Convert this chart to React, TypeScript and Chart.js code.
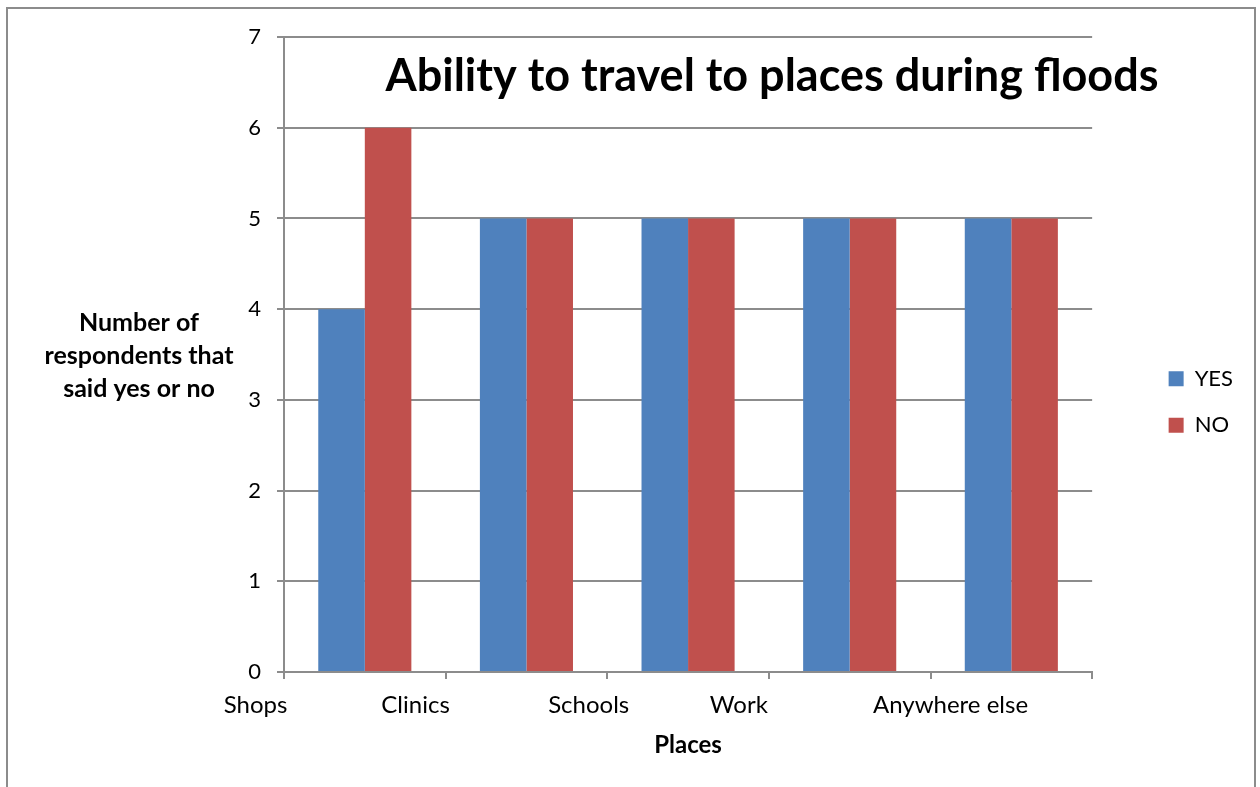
import React, { useEffect, useRef } from 'react';
import { Chart, registerables } from 'chart.js';

Chart.register(...registerables);

const categories = ['Shops', 'Clinics', 'Schools', 'Work', 'Anywhere else'];
const yesValues = [4, 5, 5, 5, 5];
const noValues = [6, 5, 5, 5, 5];
const seriesNames = ['YES', 'NO'];
const yMin = 0;
const yMax = 7;
const yStep = 1;
const chartTitle = 'Ability to travel to places during floods';
const yTitleLines = ['Number of', 'respondents that', 'said yes or no'];
const xTitle = 'Places';

const FONT = 'Lato, "Open Sans", sans-serif';
const GRID = '#8c8c8c';
const BLUE = '#4F81BD';
const RED = '#C0504D';
// shift of each category label from its category's left boundary, in category widths
const labelShift = [-0.176, -0.186, -0.115, -0.186, 0.124];

const overlayPlugin = {
  id: 'overlayText',
  afterDraw(chart: any) {
    const { ctx, chartArea, scales } = chart;
    const xs = scales.x;
    ctx.save();
    ctx.fillStyle = '#000';
    ctx.textAlign = 'center';
    ctx.textBaseline = 'alphabetic';
    const cw = (chartArea.right - chartArea.left) / categories.length;
    ctx.font = `24px ${FONT}`;
    categories.forEach((c, i) => {
      const px = xs.getPixelForValue(i) - cw / 2 + labelShift[i] * cw;
      ctx.fillText(c, px, chartArea.bottom + 41);
    });
    ctx.font = `bold 45px ${FONT}`;
    ctx.fillText(chartTitle, (chartArea.left + chart.width) / 2, chartArea.top + 54);
    ctx.font = `bold 25px ${FONT}`;
    const midY = (chartArea.top + chartArea.bottom) / 2;
    yTitleLines.forEach((l, i) => {
      ctx.fillText(l, chartArea.left - 145, midY + 9.5 + (i - 1) * 33);
    });
    ctx.restore();
  },
};

export default function App() {
  const ref = useRef<HTMLCanvasElement | null>(null);
  useEffect(() => {
    if (!ref.current) return;
    const chart = new Chart(ref.current, {
      type: 'bar',
      data: {
        labels: categories,
        datasets: [
          { label: seriesNames[0], data: yesValues, backgroundColor: BLUE, borderWidth: 0 },
          { label: seriesNames[1], data: noValues, backgroundColor: RED, borderWidth: 0 },
        ],
      },
      options: {
        animation: false,
        responsive: false,
        devicePixelRatio: 1,
        layout: { padding: { top: 37, right: 17, bottom: 20, left: 0 } },
        datasets: { bar: { categoryPercentage: 0.576, barPercentage: 1 } },
        plugins: {
          legend: {
            position: 'right',
            labels: {
              boxWidth: 15,
              boxHeight: 15,
              padding: 24.5,
              color: '#000',
              font: { family: FONT, size: 22 },
            },
          },
          title: { display: false },
          tooltip: { enabled: false },
        },
        scales: {
          x: {
            grid: { display: true, drawOnChartArea: false, drawTicks: true, tickLength: 7, color: GRID, lineWidth: 2, offset: true },
            border: { color: GRID, width: 2 },
            ticks: { display: false },
            title: {
              display: true,
              text: xTitle,
              color: '#000',
              font: { family: FONT, size: 24, weight: 'bold' },
              padding: { top: 0, bottom: 7 },
            },
            afterFit: (s: any) => { s.height = 95; },
          },
          y: {
            min: yMin,
            max: yMax,
            ticks: { stepSize: yStep, padding: 16, color: '#000', font: { family: FONT, size: 22 } },
            grid: { color: GRID, lineWidth: 2, tickLength: 7 },
            border: { color: GRID, width: 2 },
            afterFit: (s: any) => { s.width = 284; },
          },
          yPad: {
            type: 'linear',
            position: 'right',
            display: true,
            grid: { display: false },
            border: { display: false },
            ticks: { display: false },
            afterFit: (s: any) => { s.width = 52; },
          },
        },
      },
      plugins: [overlayPlugin],
    } as any);
    return () => chart.destroy();
  }, []);

  return (
    <div style={{ position: 'fixed', left: 0, top: 0, width: 1260, height: 787, background: '#fff', overflow: 'hidden' }}>
      <canvas ref={ref} width={1260} height={787} style={{ position: 'absolute', left: 0, top: 0, width: 1260, height: 787 }} />
      <div
        style={{
          position: 'absolute',
          left: 6,
          top: 7,
          width: 1250,
          height: 820,
          boxSizing: 'border-box',
          border: '2px solid #8c8c8c',
          pointerEvents: 'none',
        }}
      />
    </div>
  );
}
